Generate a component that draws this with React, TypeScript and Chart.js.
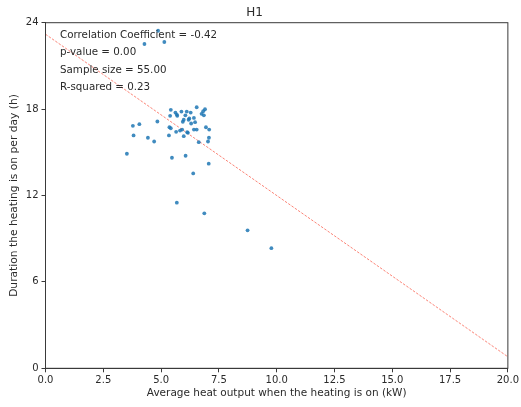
import React, { useEffect, useRef } from "react";
import { Chart, registerables } from "chart.js";

Chart.register(...registerables);

// Average heat output (kW) per house while heating is on
const heatOutput: number[] = [
  4.28, 4.87, 5.14, 5.42, 6.54, 6.9, 6.82, 6.75, 6.85, 5.62, 5.68, 5.88, 6.11, 6.28,
  5.39, 5.7, 6.05, 5.98, 5.94, 6.22, 6.42, 6.19, 6.47, 3.78, 4.06, 4.84, 5.36, 5.42,
  5.91, 5.65, 5.82, 6.13, 6.42, 6.54, 6.94, 7.08, 3.81, 5.34, 5.98, 6.16, 4.43, 4.7,
  7.07, 7.03, 6.63, 3.52, 5.47, 6.06, 7.06, 6.39, 5.68, 6.87, 8.74, 9.77, 6.3,
];

// Hours per day the heating is on
const durationHours: number[] = [
  22.52, 23.44, 22.66, 17.95, 18.13, 17.99, 17.85, 17.67, 17.57, 17.76, 17.62, 17.83,
  17.83, 17.76, 17.53, 17.53, 17.57, 17.26, 17.12, 17.35, 17.39, 17.26, 17.09, 16.84,
  16.95, 17.14, 16.74, 16.67, 16.58, 16.42, 16.51, 16.4, 16.58, 16.58, 16.74, 16.58,
  16.17, 16.17, 16.12, 16.35, 16.01, 15.75, 16.01, 15.75, 15.7, 14.9, 14.62, 14.76,
  14.21, 13.53, 11.5, 10.76, 9.58, 8.34, 17.0,
];

// Least-squares fit line
const fitIntercept = 23.2;
const fitSlope = -1.12;
const fitRange: number[] = [0, 20];

const statsLines: string[] = [
  "Correlation Coefficient = -0.42",
  "p-value = 0.00",
  "Sample size = 55.00",
  "R-squared = 0.23",
];

const xTicks: number[] = [0, 2.5, 5, 7.5, 10, 12.5, 15, 17.5, 20];
const yTicks: number[] = [0, 6, 12, 18, 24];

const FONT = "'DejaVu Sans', sans-serif";
const INK = "#2a2a2a";
const SPINE = "#3a3a3a";

const framePlugin = {
  id: "frame",
  afterDatasetsDraw(chart: any) {
    const { ctx, chartArea } = chart;
    ctx.save();
    ctx.strokeStyle = SPINE;
    ctx.lineWidth = 1;
    ctx.strokeRect(chartArea.left, chartArea.top, chartArea.right - chartArea.left, chartArea.bottom - chartArea.top);
    ctx.fillStyle = INK;
    ctx.font = `10.3px ${FONT}`;
    ctx.textAlign = "left";
    ctx.textBaseline = "middle";
    statsLines.forEach((t, i) => {
      ctx.fillText(t, chartArea.left + 14.5, chartArea.top + 12.5 + i * 17.4);
    });
    ctx.restore();
  },
};

export default function App() {
  const canvasRef = useRef<HTMLCanvasElement | null>(null);

  useEffect(() => {
    document.body.style.margin = "0";
    const canvas = canvasRef.current;
    if (!canvas) return;
    const points = heatOutput.map((x, i) => ({ x, y: durationHours[i] }));
    const fit = fitRange.map((x) => ({ x, y: fitIntercept + fitSlope * x }));

    const chart = new Chart(canvas, {
      type: "scatter",
      data: {
        datasets: [
          {
            type: "line",
            data: fit,
            borderColor: "rgba(250, 110, 95, 0.85)",
            borderWidth: 1,
            borderDash: [2.5, 1.5],
            pointRadius: 0,
            fill: false,
            order: 2,
          },
          {
            data: points,
            backgroundColor: "rgba(31, 119, 180, 0.85)",
            borderColor: "rgba(31, 119, 180, 0.85)",
            borderWidth: 0,
            pointRadius: 1.9,
            order: 1,
          },
        ],
      },
      options: {
        animation: false,
        responsive: false,
        devicePixelRatio: 1,
        layout: { padding: { left: 0, right: 11.7, top: 0, bottom: 0 } },
        plugins: {
          legend: { display: false },
          tooltip: { enabled: false },
          title: {
            display: true,
            text: "H1",
            color: INK,
            font: { family: FONT, size: 12, weight: "normal" },
            padding: { top: 5.5, bottom: 2.8 },
          },
        },
        scales: {
          x: {
            type: "linear",
            min: 0,
            max: 20,
            afterBuildTicks: (s: any) => {
              s.ticks = xTicks.map((v) => ({ value: v }));
            },
            afterFit: (s: any) => {
              s.height = 38.7;
            },
            ticks: {
              color: INK,
              font: { family: FONT, size: 10 },
              padding: 2,
              maxRotation: 0,
              autoSkip: false,
              callback: (v: any) => Number(v).toFixed(1),
            },
            grid: { drawOnChartArea: false, drawTicks: true, tickLength: 4, color: SPINE },
            border: { display: true, color: SPINE },
            title: {
              display: true,
              text: "Average heat output when the heating is on (kW)",
              color: INK,
              font: { family: FONT, size: 10.5 },
              padding: { top: 0, bottom: 7 },
            },
          },
          y: {
            type: "linear",
            min: 0,
            max: 24,
            afterBuildTicks: (s: any) => {
              s.ticks = yTicks.map((v) => ({ value: v }));
            },
            afterFit: (s: any) => {
              s.width = 45.5;
            },
            ticks: {
              color: INK,
              font: { family: FONT, size: 10 },
              padding: 3,
              autoSkip: false,
            },
            grid: { drawOnChartArea: false, drawTicks: true, tickLength: 4, color: SPINE },
            border: { display: true, color: SPINE },
            title: {
              display: true,
              text: "Duration the heating is on per day (h)",
              color: INK,
              font: { family: FONT, size: 10.7 },
              padding: { top: 7.5, bottom: 0 },
            },
          },
        },
      },
      plugins: [framePlugin],
    });

    return () => chart.destroy();
  }, []);

  return (
    <div style={{ width: 521, height: 407 }}>
      <canvas ref={canvasRef} width={521} height={407} />
    </div>
  );
}
